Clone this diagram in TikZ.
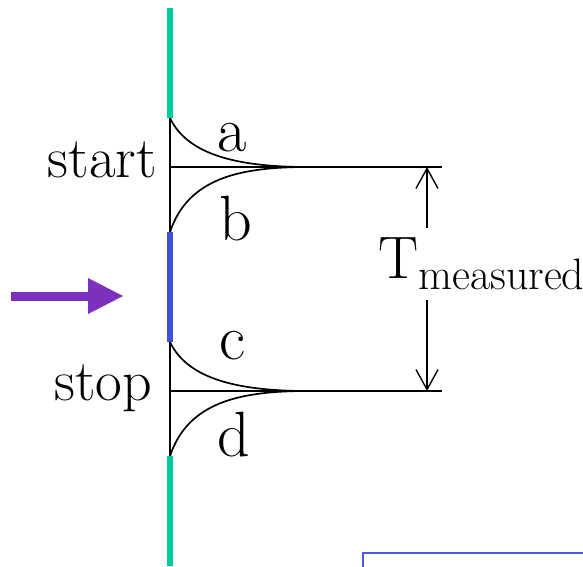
\documentclass[tikz,border=0pt]{standalone}
\usepackage{fontspec}
\usetikzlibrary{arrows.meta}
\definecolor{tealg}{RGB}{0,204,153}
\definecolor{bseg}{RGB}{64,80,216}
\definecolor{purp}{RGB}{124,48,190}
\definecolor{boxb}{RGB}{80,90,220}
\tikzset{
  lbl/.style={font=\fontsize{64}{64}\selectfont, inner sep=0pt},
  word/.style={font=\fontsize{58}{58}\selectfont, inner sep=0pt},
  blk/.style={draw=black, line width=1.7pt},
  seg/.style={line width=6pt},
  pulse/.style={draw=black, line width=1.7pt},
}
\begin{document}
\begin{tikzpicture}[x=1pt,y=-1pt]
\useasboundingbox (0,0) rectangle (583,566);
% vertical line points
\coordinate (top) at (170,8);
\coordinate (g1) at (170,118);
\coordinate (b1) at (170,232);
\coordinate (b2) at (170,342);
\coordinate (g2) at (170,456);
\coordinate (bot) at (170,566);
\coordinate (s0) at (170,167);
\coordinate (p0) at (170,391);
\coordinate (s1) at (442,167);
\coordinate (p1) at (442,391);
\coordinate (sm) at (300,167);
\coordinate (pm) at (300,391);
\coordinate (at) at (427,167);
\coordinate (ab) at (427,391);
% black segments
\draw[blk] (g1) -- (b1);
\draw[blk] (b2) -- (g2);
% colored segments
\draw[seg, tealg] (top) -- (g1);
\draw[seg, bseg] (b1) -- (b2);
\draw[seg, tealg] (g2) -- (bot);
% horizontal lines
\draw[blk] (s0) -- (s1);
\draw[blk] (p0) -- (p1);
% pulses
\draw[pulse] (g1) .. controls (188,156) and (240,166) .. (sm);
\draw[pulse] (b1) .. controls (188,178) and (240,168) .. (sm);
\draw[pulse] (b2) .. controls (188,380) and (240,390) .. (pm);
\draw[pulse] (g2) .. controls (188,402) and (240,392) .. (pm);
% measurement arrow
\draw[line width=1.4pt, {Straight Barb[length=20pt,width=22pt,line width=1.4pt]}-{Straight Barb[length=20pt,width=22pt,line width=1.4pt]}] (at) -- (ab);
\fill[white] (395,228) rectangle (470,300);
\node[font=\fontsize{60}{60}\selectfont, inner sep=0pt, anchor=base west] (T) at (378,278) {T};
\node[font=\fontsize{44}{44}\selectfont, inner sep=0pt, anchor=base west] (meas) at (418,289) {measured};
% labels
\node[word, anchor=base east] (start) at (157,177) {start};
\node[word, anchor=base east] (stop) at (152,400) {stop};
\node[lbl, anchor=base] (a) at (232,151) {a};
\node[lbl, anchor=base] (b) at (236,240) {b};
\node[lbl, anchor=base] (c) at (232,359) {c};
\node[lbl, anchor=base] (d) at (234,456) {d};
% purple arrow
\coordinate (pa0) at (11,296);
\coordinate (pa1) at (88,296);
\coordinate (pa2) at (123,296);
\draw[purp, line width=9pt] (pa0) -- (pa1);
\fill[purp] (88,278) -- (pa2) -- (88,314) -- cycle;
% bottom box
\draw[boxb, line width=2.5pt] (363,570) -- (363,553) -- (590,553);
\end{tikzpicture}
\end{document}
